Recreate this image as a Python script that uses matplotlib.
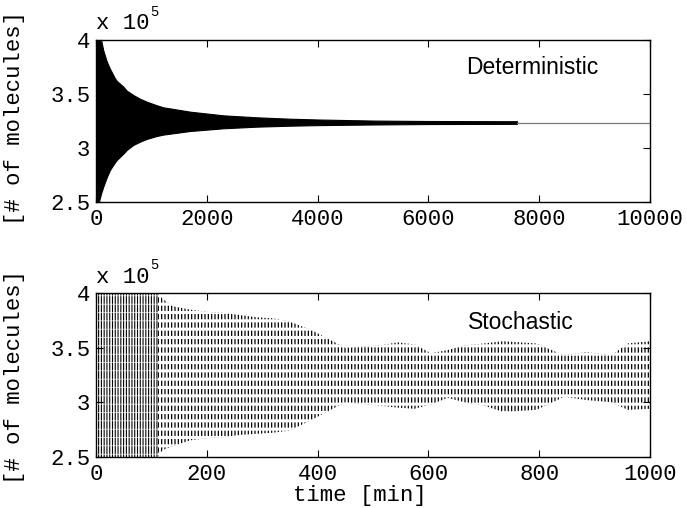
import matplotlib
matplotlib.use('Agg')
import matplotlib.pyplot as plt

# ---------------- data ----------------
# Deterministic run: envelope of the (very dense) oscillation, x 1e5 molecules
det_t     = [0, 50, 90, 132, 193, 253, 343, 374, 494, 554, 674, 795, 916, 1096, 1216, 1698, 2300, 2903, 3505, 4000, 5000, 6000, 7600]
det_upper = [4.0, 4.0, 4.0, 3.90, 3.80, 3.73, 3.643, 3.62, 3.566, 3.53, 3.489, 3.455, 3.428, 3.395, 3.376, 3.336, 3.302, 3.284, 3.271, 3.264, 3.254, 3.250, 3.248]
det_lower = [2.5, 2.5, 2.58, 2.646, 2.73, 2.80, 2.87, 2.891, 2.95, 2.983, 3.03, 3.06, 3.085, 3.112, 3.125, 3.158, 3.183, 3.198, 3.207, 3.212, 3.218, 3.222, 3.224]
tail_t     = [7600, 10000]
tail_value = [3.236, 3.236]

# Stochastic run: initial burst (values beyond the axis range) and envelope afterwards
burst_t     = [0, 112]
burst_upper = [4.0, 4.0]
burst_lower = [2.5, 2.5]
stoch_t     = [112, 120, 140, 170, 200, 230, 260, 290, 320, 350, 390, 450, 510, 545, 575, 605, 635, 665, 700, 735, 795, 845, 885, 930, 960, 1000]
stoch_upper = [4.0, 3.95, 3.88, 3.85, 3.83, 3.82, 3.80, 3.78, 3.77, 3.74, 3.66, 3.50, 3.52, 3.55, 3.53, 3.45, 3.48, 3.52, 3.54, 3.56, 3.54, 3.43, 3.46, 3.43, 3.54, 3.56]
stoch_lower = [2.5, 2.56, 2.60, 2.65, 2.67, 2.68, 2.70, 2.71, 2.72, 2.74, 2.84, 3.00, 2.97, 2.95, 2.94, 2.98, 3.04, 3.00, 2.97, 2.91, 2.93, 3.05, 3.02, 3.00, 2.93, 2.94]

top_xticks = [0, 2000, 4000, 6000, 8000, 10000]
bot_xticks = [0, 200, 400, 600, 800, 1000]
yticks = [2.5, 3, 3.5, 4]
ytick_labels = ['2.5', '3', '3.5', '4']

# ---------------- style ----------------
mono = ['Liberation Mono', 'DejaVu Sans Mono']
sans = ['Liberation Sans', 'DejaVu Sans']
plt.rcParams['font.family'] = mono
FS = 16

fig = plt.figure(figsize=(6.87, 5.08), dpi=100)
ax1 = fig.add_axes([0.1397, 0.6014, 0.8064, 0.3208])
ax2 = fig.add_axes([0.1397, 0.1010, 0.8064, 0.3216])

# top panel
ax1.fill_between(det_t, det_lower, det_upper, facecolor='black', edgecolor='black', lw=0.8)
ax1.plot(tail_t, tail_value, color='#7a7a7a', lw=0.9)
ax1.set_xlim(0, 10000)

# bottom panel: vertical line texture broken into dashes
with plt.rc_context({'hatch.linewidth': 0.8}):
    ax2.fill_between(burst_t, burst_lower, burst_upper, facecolor='none', edgecolor='black', hatch='||||||', lw=0)
with plt.rc_context({'hatch.linewidth': 0.9}):
    ax2.fill_between(stoch_t, stoch_lower, stoch_upper, facecolor='none', edgecolor='black', hatch='|||||', lw=0)
with plt.rc_context({'hatch.linewidth': 0.45}):
    ax2.fill_between(burst_t, burst_lower, burst_upper, facecolor='none', edgecolor='white', hatch='--', lw=0)
with plt.rc_context({'hatch.linewidth': 2.2}):
    ax2.fill_between(stoch_t, stoch_lower, stoch_upper, facecolor='none', edgecolor='white', hatch='--', lw=0)
ax2.set_xlim(0, 1000)

for ax, xt in ((ax1, top_xticks), (ax2, bot_xticks)):
    ax.set_ylim(2.5, 4)
    ax.set_xticks(xt)
    ax.set_xticklabels([str(v) for v in xt])
    ax.set_yticks(yticks)
    ax.set_yticklabels(ytick_labels)
    ax.tick_params(direction='in', top=True, right=True, length=5, width=0.8,
                   labelsize=FS, colors='black')
    ax.tick_params(axis='x', pad=5)
    ax.tick_params(axis='y', pad=4)
    for s in ax.spines.values():
        s.set_linewidth(1.0)
    ax.set_ylabel('[# of molecules]', fontsize=FS)
    ax.annotate('x 10', xy=(0, 1), xycoords='axes fraction', xytext=(0, 4),
                textcoords='offset points', ha='left', va='bottom', fontsize=FS)
    ax.annotate('5', xy=(0, 1), xycoords='axes fraction', xytext=(39, 15),
                textcoords='offset points', ha='left', va='bottom', fontsize=10)

ax1.yaxis.set_label_coords(-0.128, 0.52)
ax2.yaxis.set_label_coords(-0.128, 0.49)

ax2.set_xlabel('time [min]', fontsize=FS)
ax2.xaxis.set_label_coords(0.476, -0.172)

ax1.text(7877, 3.74, 'Deterministic', family=sans, fontsize=16.5, ha='center', va='center')
ax2.text(767, 3.73, 'Stochastic', family=sans, fontsize=16.5, ha='center', va='center')

fig.savefig('out.png', dpi=100)
